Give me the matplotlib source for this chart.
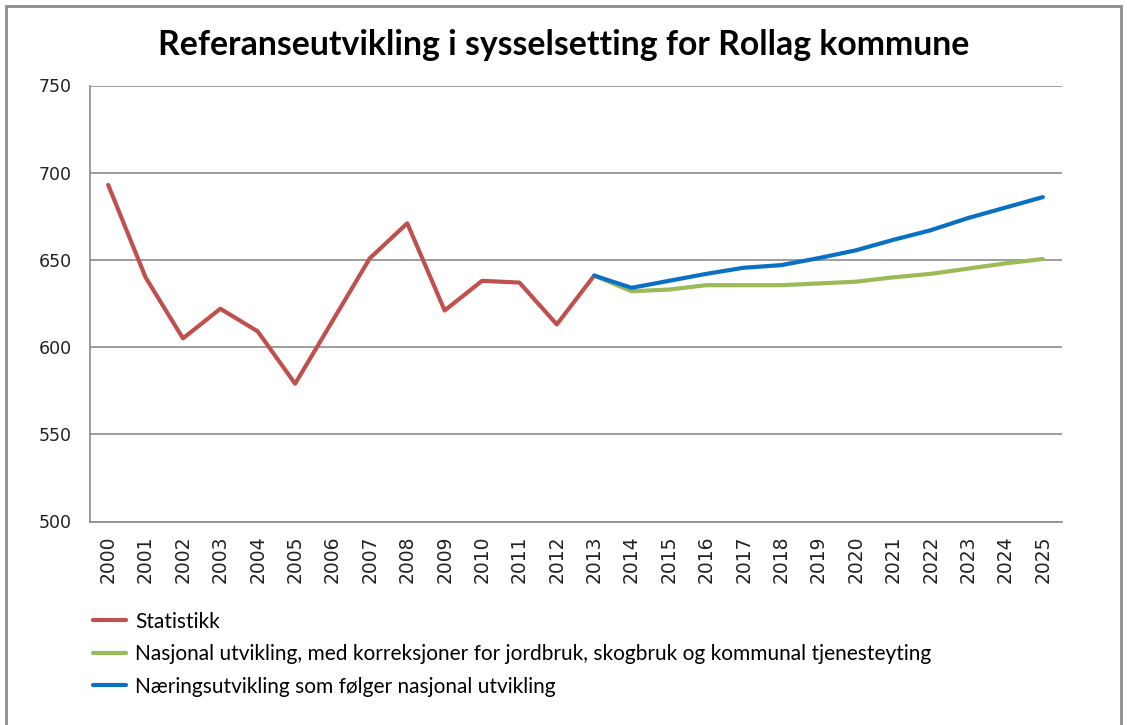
import matplotlib.pyplot as plt
from matplotlib.patches import Rectangle

years = [str(y) for y in range(2000, 2026)]

statistikk = [693, 640, 605, 622, 609, 579, 615, 651, 671, 621, 638, 637, 613, 641]
nasjonal = [641, 632, 633, 635.5, 635.5, 635.5, 636.5, 637.5, 640, 642, 645, 648, 650.5]
naering = [641, 634, 638, 642, 645.5, 647, 651, 655.5, 661.5, 667, 674, 680, 686]

labels = [
    "Statistikk",
    "Nasjonal utvikling, med korreksjoner for jordbruk, skogbruk og kommunal tjenesteyting",
    "Næringsutvikling som følger nasjonal utvikling",
]
title = "Referanseutvikling i sysselsetting for Rollag kommune"

RED = "#C0504D"
GREEN = "#9BBB59"
BLUE = "#0A70C4"
GRID = "#8C8C8C"

narrow = ["Lato", "DejaVu Sans"]

W, H = 1127, 725
fig = plt.figure(figsize=(W / 100, H / 100), dpi=100)
ax = fig.add_axes([89.5 / W, 1 - 521.5 / H, (1061.5 - 89.5) / W, (521.5 - 85.5) / H])

x_stat = list(range(len(statistikk)))
x_proj = list(range(13, 13 + len(nasjonal)))

l1, = ax.plot(x_stat, statistikk, color=RED, lw=3, solid_capstyle="round", zorder=3)
l2, = ax.plot(x_proj, nasjonal, color=GREEN, lw=3, solid_capstyle="round", zorder=3)
l3, = ax.plot(x_proj, naering, color=BLUE, lw=3, solid_capstyle="round", zorder=4)

ax.set_xlim(-0.5, len(years) - 0.5)
ax.set_ylim(500, 750)
ax.set_yticks([500, 550, 600, 650, 700, 750])
ax.set_xticks(range(len(years)))
ax.set_xticklabels(years, rotation=90)
ax.tick_params(length=0, labelsize=12.5, colors="#222222")
ax.tick_params(axis="x", labelsize=13.5, pad=10)
ax.tick_params(axis="y", pad=13)
ax.yaxis.grid(True, color=GRID, lw=1.2)
ax.set_axisbelow(True)
for side in ["top", "right"]:
    ax.spines[side].set_visible(False)
for side in ["left", "bottom"]:
    ax.spines[side].set_color(GRID)
    ax.spines[side].set_linewidth(1.2)

fig.text(0.5, 1 - 45 / H, title, ha="center", va="center",
         fontsize=24.3, fontweight="bold", family=narrow)

leg = fig.legend([l1, l2, l3], labels, loc="upper left",
                 bbox_to_anchor=(74 / W, 1 - 593 / H), frameon=False,
                 handlelength=1.6, handletextpad=0.45, labelspacing=0.6,
                 prop={"family": narrow, "size": 15})

# outer frame of the chart
fig.patches.append(Rectangle((6 / W, -0.1), (1121 - 6) / W, 1.1 - 6 / H,
                             transform=fig.transFigure, fill=False,
                             edgecolor="#8C8C8C", lw=2))

fig.savefig("out.png", dpi=100)
